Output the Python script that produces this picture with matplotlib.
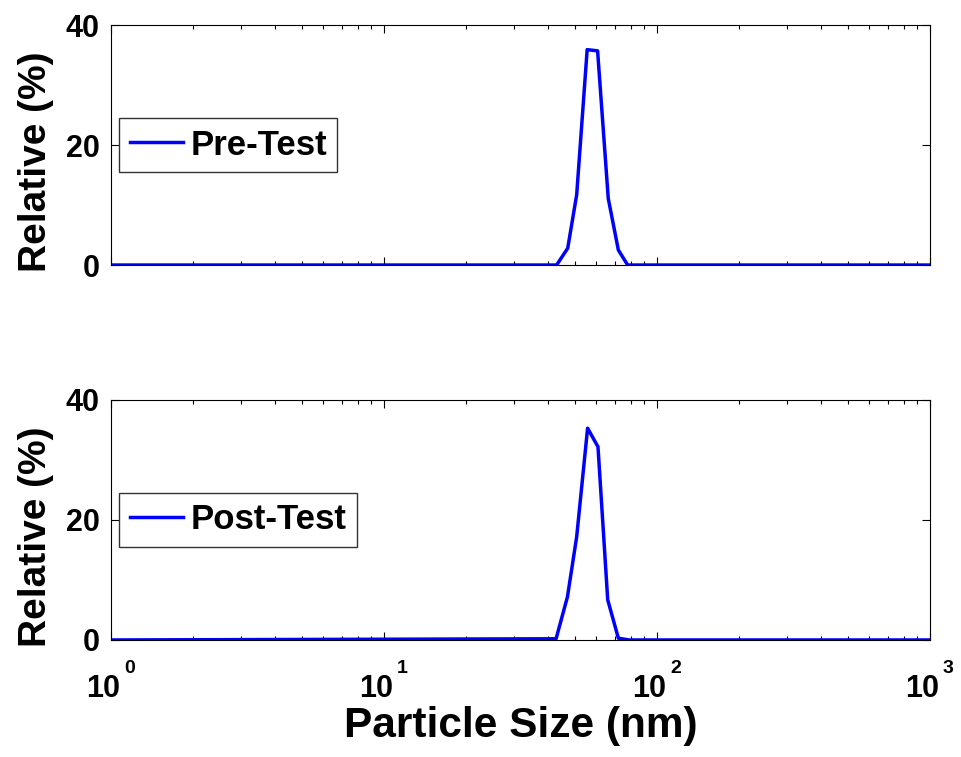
import matplotlib
matplotlib.use('Agg')
import matplotlib.pyplot as plt
import matplotlib.transforms as mtransforms
from matplotlib.ticker import LogLocator, NullFormatter

plt.rcParams['font.family'] = ['Liberation Sans', 'DejaVu Sans']
plt.rcParams['font.weight'] = 'bold'

# particle size (nm) and relative intensity (%)
pre_size = [1, 42.9, 47.1, 50.8, 55.5, 60.6, 66.3, 72.2, 78.1, 1000]
pre_value = [0, 0, 2.8, 11.7, 35.9, 35.7, 11.1, 2.5, 0, 0]
post_size = [1, 42.7, 47.0, 50.8, 55.7, 60.8, 66.0, 72.2, 79.0, 1000]
post_value = [0, 0.2, 7.2, 17.2, 35.3, 32.2, 6.7, 0.3, 0, 0]

yticks = [0, 20, 40]
xticks = [1, 10, 100, 1000]
xexponents = ['0', '1', '2', '3']

fig = plt.figure(figsize=(9.61, 7.57), dpi=100)
ax1 = fig.add_axes([0.1155, 0.6499, 0.8522, 0.317])
ax2 = fig.add_axes([0.1155, 0.1546, 0.8522, 0.317])

panels = [(ax1, pre_size, pre_value, 'Pre-Test'),
          (ax2, post_size, post_value, 'Post-Test')]

for ax, xs, ys, name in panels:
    ax.plot(xs, ys, color='#0000ff', lw=2.5, label=name)
    ax.set_xscale('log')
    ax.set_xlim(1, 1000)
    ax.set_ylim(0, 40)
    ax.set_yticks(yticks)
    ax.set_xticks(xticks)
    ax.set_xticklabels([])
    ax.xaxis.set_minor_locator(LogLocator(base=10, subs=range(2, 10)))
    ax.xaxis.set_minor_formatter(NullFormatter())
    ax.tick_params(which='both', direction='in', top=True, right=True,
                   labelsize=22, width=0.8)
    ax.tick_params(which='major', length=6, pad=8)
    ax.tick_params(which='minor', length=3)
    for s in ax.spines.values():
        s.set_linewidth(0.8)
    ax.set_ylabel('Relative (%)', fontsize=28, fontweight='bold')
    ax.yaxis.set_label_coords(-0.07, 0.43)
    leg = ax.legend(loc='center left', bbox_to_anchor=(0.01, 0.5),
                    borderaxespad=0, fontsize=25, handlelength=1.55,
                    handletextpad=0.2, borderpad=0.3, fancybox=False,
                    framealpha=1)
    leg.get_frame().set_edgecolor('#333333')
    leg.get_frame().set_linewidth(1.0)

# x tick labels as 10 with a raised exponent, like the original
base = mtransforms.blended_transform_factory(ax2.transData, ax2.transAxes)
for t, e in zip(xticks, xexponents):
    tr = mtransforms.offset_copy(base, fig, x=-8, y=-57, units='dots')
    ax2.text(t, 0, '10', transform=tr, ha='center', va='baseline',
             fontsize=22, fontweight='bold', clip_on=False)
    tr = mtransforms.offset_copy(base, fig, x=13, y=-33, units='dots')
    ax2.text(t, 0, e, transform=tr, ha='left', va='baseline',
             fontsize=14, fontweight='bold', clip_on=False)

ax2.set_xlabel('Particle Size (nm)', fontsize=30.5, fontweight='bold')
ax2.xaxis.set_label_coords(0.5, -0.275)

fig.savefig('out.png', dpi=100)
